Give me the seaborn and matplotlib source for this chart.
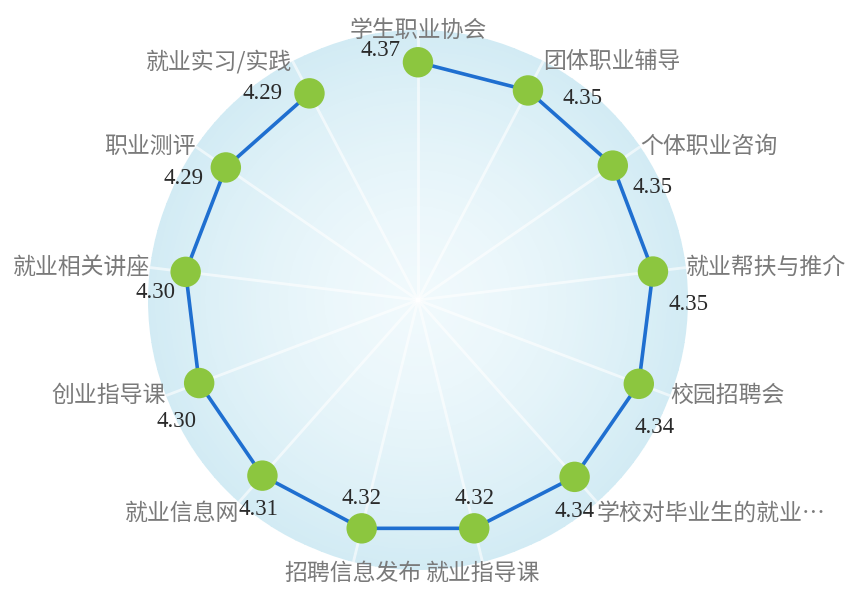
import numpy as np
import pandas as pd
import matplotlib
matplotlib.use("Agg")
import matplotlib.pyplot as plt
import seaborn as sns

# categories clockwise from the top
categories = ["学生职业协会", "团体职业辅导", "个体职业咨询", "就业帮扶与推介", "校园招聘会",
              "学校对毕业生的就业…", "就业指导课", "招聘信息发布", "就业信息网", "创业指导课",
              "就业相关讲座", "职业测评", "就业实习/实践"]
scores = [4.37, 4.35, 4.35, 4.35, 4.34, 4.34, 4.32, 4.32, 4.31, 4.30, 4.30, 4.29, 4.29]
score_labels = ["4.37", "4.35", "4.35", "4.35", "4.34", "4.34", "4.32", "4.32", "4.31", "4.30",
                "4.30", "4.29", "4.29"]

# label placement (pixels, relative to each point)
value_offsets = [(-37, 12), (55, -8), (40, -22), (36, -33), (16, -44), (0, -35), (0, 30),
                 (0, 30), (-4, -34), (-23, -38), (-30, -21), (-42, -11), (-47, 0)]

sns.set_theme(style="white")
plt.rcParams["font.family"] = ["Noto Sans CJK SC", "DejaVu Sans"]

n = len(categories)
theta = np.pi / 2 - np.arange(n) * 2 * np.pi / n
df = pd.DataFrame({"theta": theta, "score": scores})
closed = pd.concat([df, df.iloc[:1]], ignore_index=True)

fig = plt.figure(figsize=(8.49, 5.90), dpi=100)
ax = fig.add_axes([0.1743, 0.0339, 0.636, 0.915], projection="polar")
rmax = 4.96
ax.set_ylim(0, rmax)

# soft radial background
rr, tt = np.meshgrid(np.linspace(0, rmax, 60), np.linspace(0, 2 * np.pi, 181))
shade = (rr / rmax) ** 1.6
ax.pcolormesh(tt, rr, shade, cmap=matplotlib.colors.LinearSegmentedColormap.from_list(
    "bg", ["#f0f9fc", "#d2ebf4"]), shading="auto", zorder=0)
for t in theta:
    ax.plot([t, t], [0, rmax], color="white", lw=2, alpha=0.6, zorder=1)

ax.grid(False)
ax.spines["polar"].set_visible(False)
ax.set_xticks([])
ax.set_yticks([])

sns.lineplot(data=closed, x="theta", y="score", sort=False, color="#1f6fd0", lw=2.6,
             ax=ax, zorder=3, legend=False)
sns.scatterplot(data=df, x="theta", y="score", color="#8cc63f", s=480, edgecolor="none",
                ax=ax, zorder=4, legend=False)
ax.set_xlabel("")
ax.set_ylabel("")

# category names on the outer ring
r_name = rmax * 270 / 270
for t, name in zip(theta, categories):
    c = np.cos(t)
    s = np.sin(t)
    if c > 0.3:
        ha = "left"
    elif c < -0.3:
        ha = "right"
    else:
        ha = "center"
    va = "center"
    if s < -0.5:
        va = "top"
    ax.text(t, r_name, name, ha=ha, va=va, fontsize=16.5, color="#7a7a7a", zorder=5)

for t, v, lab, off in zip(theta, scores, score_labels, value_offsets):
    ax.annotate(lab, (t, v), xytext=off, textcoords="offset pixels", ha="center", va="center",
                fontsize=16.5, color="#2a2a2a", family="Liberation Serif", zorder=6)

fig.savefig("out.png", dpi=100)
